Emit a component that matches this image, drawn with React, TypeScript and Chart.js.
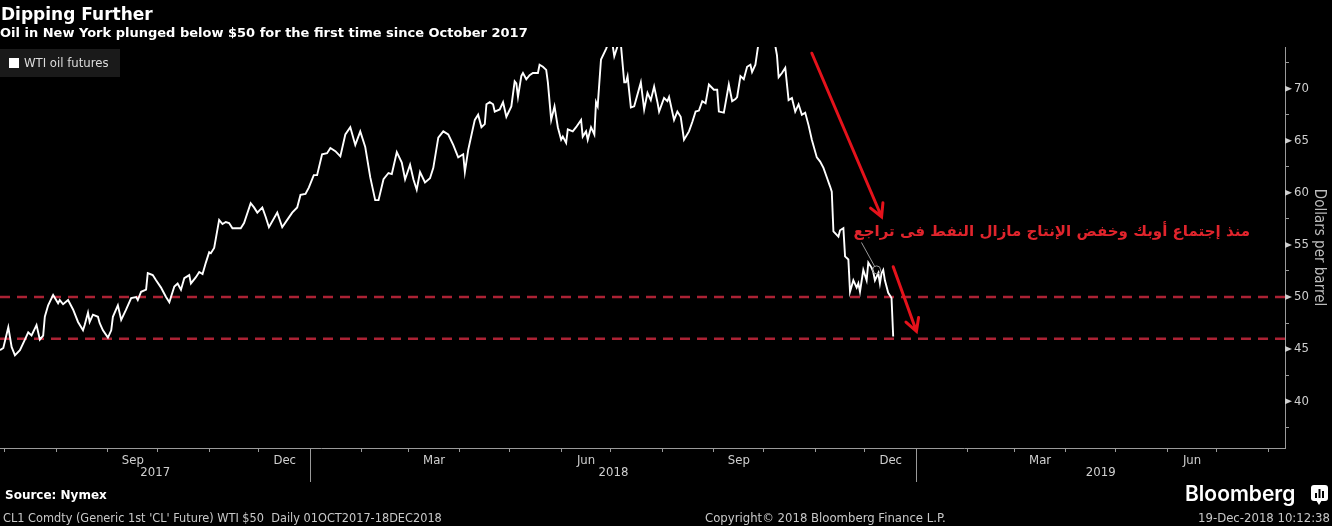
import React, { useEffect, useRef } from "react";
import { Chart, registerables } from "chart.js";

Chart.register(...registerables);

// ---------- data ----------
const dates: string[] = [
  "2017-06-28","2017-06-30","2017-07-03","2017-07-05","2017-07-07","2017-07-10","2017-07-13","2017-07-15","2017-07-17","2017-07-20",
  "2017-07-22","2017-07-24","2017-07-25","2017-07-27","2017-07-30","2017-08-02","2017-08-03","2017-08-05","2017-08-08","2017-08-11",
  "2017-08-14","2017-08-17","2017-08-18","2017-08-20","2017-08-21","2017-08-23","2017-08-26","2017-08-27","2017-08-29","2017-09-01",
  "2017-09-03","2017-09-04","2017-09-07","2017-09-09","2017-09-12","2017-09-15","2017-09-18","2017-09-19","2017-09-21","2017-09-24",
  "2017-09-25","2017-09-28","2017-09-30","2017-10-03","2017-10-04","2017-10-06","2017-10-08","2017-10-09","2017-10-11","2017-10-13",
  "2017-10-15","2017-10-17","2017-10-20","2017-10-21","2017-10-24","2017-10-26","2017-10-28","2017-10-30","2017-11-01","2017-11-02",
  "2017-11-04","2017-11-07","2017-11-09","2017-11-11","2017-11-13","2017-11-15","2017-11-20","2017-11-22","2017-11-26","2017-11-28",
  "2017-11-30","2017-12-03","2017-12-05","2017-12-07","2017-12-12","2017-12-15","2017-12-18","2017-12-21","2017-12-24","2017-12-26",
  "2017-12-29","2017-12-31","2018-01-03","2018-01-05","2018-01-08","2018-01-11","2018-01-13","2018-01-16","2018-01-19","2018-01-22",
  "2018-01-25","2018-01-28","2018-01-31","2018-02-03","2018-02-06","2018-02-09","2018-02-11","2018-02-14","2018-02-17","2018-02-19",
  "2018-02-22","2018-02-25","2018-02-27","2018-03-02","2018-03-04","2018-03-06","2018-03-08","2018-03-11","2018-03-14","2018-03-16",
  "2018-03-19","2018-03-22","2018-03-25","2018-03-28","2018-03-31","2018-04-03","2018-04-04","2018-04-06","2018-04-09","2018-04-10",
  "2018-04-12","2018-04-14","2018-04-16","2018-04-17","2018-04-19","2018-04-21","2018-04-22","2018-04-25","2018-04-27","2018-04-29",
  "2018-05-02","2018-05-04","2018-05-05","2018-05-06","2018-05-08","2018-05-09","2018-05-11","2018-05-13","2018-05-15","2018-05-18",
  "2018-05-19","2018-05-21","2018-05-23","2018-05-24","2018-05-26","2018-05-28","2018-05-30","2018-06-01","2018-06-02","2018-06-04",
  "2018-06-05","2018-06-08","2018-06-10","2018-06-13","2018-06-14","2018-06-16","2018-06-17","2018-06-19","2018-06-21","2018-06-22",
  "2018-06-23","2018-06-25","2018-06-28","2018-06-29","2018-07-02","2018-07-03","2018-07-05","2018-07-07","2018-07-09","2018-07-10",
  "2018-07-11","2018-07-13","2018-07-15","2018-07-19","2018-07-21","2018-07-23","2018-07-25","2018-07-27","2018-07-29","2018-07-30",
  "2018-08-02","2018-08-04","2018-08-05","2018-08-08","2018-08-10","2018-08-12","2018-08-14","2018-08-17","2018-08-19","2018-08-21",
  "2018-08-23","2018-08-25","2018-08-27","2018-08-29","2018-09-01","2018-09-03","2018-09-04","2018-09-07","2018-09-10","2018-09-12",
  "2018-09-14","2018-09-15","2018-09-17","2018-09-19","2018-09-21","2018-09-23","2018-09-24","2018-09-26","2018-09-28","2018-09-30",
  "2018-10-02","2018-10-04","2018-10-06","2018-10-07","2018-10-09","2018-10-10","2018-10-12","2018-10-14","2018-10-16","2018-10-18",
  "2018-10-20","2018-10-22","2018-10-24","2018-10-26","2018-10-28","2018-10-30","2018-11-02","2018-11-04","2018-11-06","2018-11-08",
  "2018-11-10","2018-11-11","2018-11-12","2018-11-15","2018-11-16","2018-11-18","2018-11-19","2018-11-21","2018-11-22","2018-11-24",
  "2018-11-26","2018-11-27","2018-11-28","2018-11-30","2018-12-02","2018-12-03","2018-12-05","2018-12-06","2018-12-07","2018-12-09",
  "2018-12-10","2018-12-11","2018-12-12","2018-12-13","2018-12-15","2018-12-17","2018-12-18",
];

const wti: number[] = [
  44.9,45.1,47.1,45.2,44.4,44.9,45.9,46.6,46.3,47.3,
  45.9,46.3,48.1,49.2,50.2,49.4,49.7,49.3,49.7,48.8,
  47.6,46.8,47.3,48.5,47.6,48.3,48.1,47.5,46.8,46.1,
  46.8,48.1,49.2,47.8,48.8,49.9,50.0,49.7,50.5,50.7,
  52.3,52.1,51.6,50.9,50.6,50.0,49.5,50.0,51.0,51.3,
  50.7,51.8,52.1,51.3,51.9,52.4,52.2,53.3,54.3,54.2,
  54.7,57.4,57.0,57.2,57.1,56.6,56.6,57.1,59.0,58.6,
  58.1,58.6,57.7,56.7,58.1,56.7,57.4,58.1,58.6,59.8,
  59.9,60.5,61.7,61.7,63.7,63.8,64.3,64.0,63.5,65.6,
  66.3,64.6,65.9,64.4,61.5,59.3,59.3,61.3,61.9,61.8,
  63.9,62.9,61.3,62.7,61.3,60.3,62.0,61.0,61.4,62.4,
  65.3,65.9,65.6,64.6,63.4,63.7,62.0,64.1,66.3,67.0,
  67.5,66.3,66.6,68.5,68.7,68.5,67.8,68.0,68.7,67.3,
  68.3,70.7,70.5,69.2,71.2,71.5,70.9,71.3,71.5,71.5,
  72.3,72.1,71.8,70.6,67.0,68.3,66.3,65.1,65.4,64.8,
  66.1,65.9,66.3,67.0,65.4,65.9,65.1,66.3,65.6,68.7,
  68.3,72.8,73.8,74.2,74.2,73.1,74.1,74.2,70.6,70.6,
  71.2,68.2,68.3,70.6,68.0,69.6,68.9,70.2,68.7,67.8,
  69.1,68.8,69.2,67.0,67.8,67.3,65.1,65.9,66.8,67.8,
  67.9,68.8,68.6,70.4,69.9,69.9,67.8,67.7,70.4,68.8,
  69.0,69.2,71.2,70.9,72.1,72.3,71.6,72.3,74.5,75.5,
  76.4,74.3,74.5,75.0,73.2,71.1,71.5,72.0,68.9,69.1,
  67.8,68.5,67.5,67.7,66.5,65.1,63.4,63.0,62.4,61.5,
  60.6,60.1,56.3,55.8,56.4,56.6,53.9,53.6,50.5,51.6,
  50.9,51.3,50.5,52.6,51.6,53.3,52.8,52.4,51.6,52.3,
  51.3,52.3,52.6,51.6,50.4,49.9,46.2,
];

const referenceLevels: number[] = [50, 46];
const axisRange: string[] = ["2017-06-28", "2019-08-11"];
const yRange: number[] = [35.5, 74];
const yTickValues: number[] = [37.5, 40, 42.5, 45, 47.5, 50, 52.5, 55, 57.5, 60, 62.5, 65, 67.5, 70, 72.5];
const monthNames: string[] = ["Jan","Feb","Mar","Apr","May","Jun","Jul","Aug","Sep","Oct","Nov","Dec"];
const labelledMonths: number[] = [2, 5, 8, 11]; // Mar, Jun, Sep, Dec
const years: number[] = [2017, 2018, 2019];

const titleText = "Dipping Further";
const subtitleText = "Oil in New York plunged below $50 for the first time since October 2017";
const legendText = "WTI oil futures";
const yTitle = "Dollars per barrel";
const sourceText = "Source: Nymex";
const tickerText = "CL1 Comdty (Generic 1st 'CL' Future) WTI $50  Daily 01OCT2017-18DEC2018";
const copyrightText = "Copyright\u00A9 2018 Bloomberg Finance L.P.";
const stampText = "19-Dec-2018 10:12:38";

const noteText = "منذ إجتماع أوبك وخفض الإنتاج مازال النفط فى تراجع";
const noteAnchor: [string, number] = ["2019-07-21", 56.25];
const calloutFrom: [string, number] = ["2018-11-29", 55.2];
const calloutPoint: [string, number] = ["2018-12-08", 52.6];
const arrowStarts: [string, number][] = [["2018-10-30", 73.4], ["2018-12-18", 52.9]];
const arrowEnds: [string, number][] = [["2018-12-11", 57.7], ["2019-01-01", 46.7]];

// ---------- helpers ----------
const dayNum = (s: string) => {
  const [y, m, d] = s.split("-").map(Number);
  return Date.UTC(y, m - 1, d) / 86400000;
};
const dayOf = (y: number, m: number, d: number) => Date.UTC(y, m, d) / 86400000;

const COND = '"Liberation Sans Narrow", "DejaVu Sans Condensed", sans-serif';
const AXIS_COLOR = "#9a9a9a";
const LABEL_COLOR = "#cfcfcf";

export default function App() {
  const ref = useRef<HTMLCanvasElement | null>(null);

  useEffect(() => {
    if (!ref.current) return;
    const xMin = dayNum(axisRange[0]);
    const xMax = dayNum(axisRange[1]);

    // month boundary ticks and mid-month label ticks
    const monthStarts: number[] = [];
    const midTicks: { v: number; label: string }[] = [];
    for (let y = 2017; y <= 2019; y++) {
      for (let m = 0; m < 12; m++) {
        const s = dayOf(y, m, 1);
        const e = dayOf(y, m + 1, 1);
        if (s >= xMin && s <= xMax) monthStarts.push(s);
        const mid = (s + e) / 2;
        if (labelledMonths.includes(m) && mid > xMin && mid < xMax) midTicks.push({ v: mid, label: monthNames[m] });
      }
    }
    const midMap = new Map(midTicks.map((t) => [t.v, t.label]));

    const series = dates.map((d, i) => ({ x: dayNum(d), y: wti[i] }));

    const overlay = {
      id: "overlay",
      beforeDraw(chart: any) {
        const { ctx, width, height } = chart;
        ctx.save();
        ctx.fillStyle = "#000";
        ctx.fillRect(0, 0, width, height);
        ctx.restore();
      },
      afterDraw(chart: any) {
        const { ctx, chartArea } = chart;
        const xs = chart.scales.x;
        const ys = chart.scales.y;
        const px = (d: string) => xs.getPixelForValue(dayNum(d));
        const py = (v: number) => ys.getPixelForValue(v);
        ctx.save();

        // title + subtitle
        ctx.fillStyle = "#ffffff";
        ctx.textAlign = "left";
        ctx.textBaseline = "alphabetic";
        ctx.font = 'bold 17px "DejaVu Sans"';
        ctx.fillText(titleText, 1, 20);
        ctx.font = 'bold 13px "DejaVu Sans"';
        ctx.fillText(subtitleText, 0, 37);

        // legend
        ctx.fillStyle = "#1a1a1a";
        ctx.fillRect(0, 49, 120, 28);
        ctx.fillStyle = "#ffffff";
        ctx.fillRect(9, 58, 10, 10);
        ctx.fillStyle = "#dddddd";
        ctx.font = `13px ${COND}`;
        ctx.textBaseline = "middle";
        ctx.fillText(legendText, 24, 63.5);

        // y major tick triangles
        ctx.fillStyle = LABEL_COLOR;
        yTickValues.forEach((v) => {
          if (v % 5 !== 0) return;
          const y = py(v);
          ctx.beginPath();
          ctx.moveTo(chartArea.right, y - 3);
          ctx.lineTo(chartArea.right + 7, y);
          ctx.lineTo(chartArea.right, y + 3);
          ctx.closePath();
          ctx.fill();
        });

        // years: separators and labels
        ctx.strokeStyle = AXIS_COLOR;
        ctx.lineWidth = 1;
        ctx.fillStyle = LABEL_COLOR;
        ctx.font = `13px ${COND}`;
        ctx.textAlign = "center";
        ctx.textBaseline = "middle";
        years.forEach((yr) => {
          const s = Math.max(dayOf(yr, 0, 1), xMin);
          const e = Math.min(dayOf(yr + 1, 0, 1), xMax);
          if (dayOf(yr, 0, 1) > xMin) {
            const x = Math.round(xs.getPixelForValue(dayOf(yr, 0, 1))) + 0.5;
            ctx.beginPath();
            ctx.moveTo(x, chartArea.bottom + 4);
            ctx.lineTo(x, chartArea.bottom + 34);
            ctx.stroke();
          }
          const cx = (xs.getPixelForValue(s) + xs.getPixelForValue(e)) / 2;
          ctx.fillText(String(yr), cx, chartArea.bottom + 25);
        });

        // footer
        ctx.textAlign = "left";
        ctx.textBaseline = "alphabetic";
        ctx.fillStyle = "#ffffff";
        ctx.font = 'bold 12px "DejaVu Sans"';
        ctx.fillText(sourceText, 5, 499);
        ctx.fillStyle = "#c8c8c8";
        ctx.font = `13px ${COND}`;
        ctx.save();
        ctx.translate(3, 522);
        ctx.scale(0.97, 1);
        ctx.fillText(tickerText, 0, 0);
        ctx.restore();
        ctx.fillText(copyrightText, 705, 522);
        ctx.textAlign = "right";
        ctx.fillText(stampText, 1330, 522);

        // Bloomberg logo
        ctx.fillStyle = "#ffffff";
        ctx.textAlign = "left";
        ctx.font = '600 21px "Inter"';
        ctx.fillText("Bloomberg", 1185, 501);
        ctx.beginPath();
        ctx.roundRect(1311, 485, 17, 16, 3);
        ctx.fill();
        ctx.beginPath();
        ctx.moveTo(1316, 500);
        ctx.lineTo(1319, 505);
        ctx.lineTo(1322, 500);
        ctx.fill();
        ctx.fillStyle = "#000";
        ctx.fillRect(1315, 493, 2, 5);
        ctx.fillRect(1318.5, 489, 2, 9);
        ctx.fillRect(1322, 491, 2, 7);

        // arrows
        ctx.strokeStyle = "#e5121b";
        ctx.lineWidth = 3;
        ctx.lineCap = "round";
        arrowStarts.forEach((a, i) => {
          const x1 = px(a[0]), y1 = py(a[1]);
          const x2 = px(arrowEnds[i][0]), y2 = py(arrowEnds[i][1]);
          const ang = Math.atan2(y2 - y1, x2 - x1);
          ctx.beginPath();
          ctx.moveTo(x1, y1);
          ctx.lineTo(x2, y2);
          const L = 14, w = 0.5;
          ctx.moveTo(x2 - L * Math.cos(ang - w), y2 - L * Math.sin(ang - w));
          ctx.lineTo(x2, y2);
          ctx.lineTo(x2 - L * Math.cos(ang + w), y2 - L * Math.sin(ang + w));
          ctx.stroke();
        });

        // callout
        const cx = px(calloutPoint[0]), cy = py(calloutPoint[1]);
        const fx = px(calloutFrom[0]), fy = py(calloutFrom[1]);
        ctx.strokeStyle = "#9a9a9a";
        ctx.lineWidth = 1;
        const ang = Math.atan2(cy - fy, cx - fx);
        ctx.beginPath();
        ctx.moveTo(fx, fy);
        ctx.lineTo(cx - 4 * Math.cos(ang), cy - 4 * Math.sin(ang));
        ctx.stroke();
        ctx.beginPath();
        ctx.arc(cx, cy, 4, 0, Math.PI * 2);
        ctx.stroke();

        // Arabic note
        ctx.fillStyle = "#e0242c";
        ctx.textAlign = "right";
        ctx.textBaseline = "middle";
        ctx.direction = "rtl";
        let size = 16;
        ctx.font = `bold ${size}px "DejaVu Sans"`;
        const w0 = ctx.measureText(noteText).width;
        size = Math.max(10, Math.min(22, (size * 397) / w0));
        ctx.font = `bold ${size}px "DejaVu Sans"`;
        ctx.fillText(noteText, px(noteAnchor[0]), py(noteAnchor[1]));

        ctx.restore();
      },
    };

    const chart = new Chart(ref.current, {
      type: "line",
      data: {
        datasets: [
          {
            label: legendText,
            data: series,
            borderColor: "#ffffff",
            borderWidth: 1.9,
            pointRadius: 0,
            tension: 0,
            order: 0,
          } as any,
          ...referenceLevels.map((lvl) => ({
            label: `level ${lvl}`,
            data: [
              { x: xMin, y: lvl },
              { x: xMax, y: lvl },
            ],
            borderColor: "rgba(190,38,58,0.9)",
            borderWidth: 2.5,
            borderDash: [10, 7],
            pointRadius: 0,
            order: 1,
          })),
        ],
      },
      options: {
        animation: false,
        responsive: false,
        maintainAspectRatio: false,
        layout: { padding: { top: 47, bottom: 48, left: 0, right: 0 } },
        plugins: {
          legend: { display: false },
          tooltip: { enabled: false },
          title: { display: false },
        },
        scales: {
          x: {
            type: "linear",
            min: xMin,
            max: xMax,
            afterFit: (s: any) => {
              s.height = 30;
            },
            afterBuildTicks: (s: any) => {
              const all = [...monthStarts, ...midTicks.map((t) => t.v)].sort((a, b) => a - b);
              s.ticks = all.map((v) => ({ value: v }));
            },
            border: { display: true, color: AXIS_COLOR, width: 1 },
            grid: {
              display: true,
              drawOnChartArea: false,
              drawTicks: true,
              tickLength: 4,
              tickColor: (c: any) => (c.tick && midMap.has(c.tick.value) ? "rgba(0,0,0,0)" : AXIS_COLOR),
            },
            ticks: {
              autoSkip: false,
              maxRotation: 0,
              minRotation: 0,
              padding: 1,
              color: LABEL_COLOR,
              font: { family: COND, size: 13 },
              callback: (v: any) => midMap.get(v) || "",
            },
          },
          y: {
            type: "linear",
            position: "right",
            min: yRange[0],
            max: yRange[1],
            afterFit: (s: any) => {
              s.width = 47;
            },
            afterBuildTicks: (s: any) => {
              s.ticks = yTickValues.map((v) => ({ value: v }));
            },
            border: { display: true, color: AXIS_COLOR, width: 1 },
            grid: {
              display: true,
              drawOnChartArea: false,
              drawTicks: true,
              tickLength: 4,
              tickColor: (c: any) => (c.tick && c.tick.value % 5 === 0 ? "rgba(0,0,0,0)" : AXIS_COLOR),
            },
            ticks: {
              padding: 5,
              color: LABEL_COLOR,
              font: { family: COND, size: 13 },
              callback: (v: any) => (v % 5 === 0 ? String(v) : ""),
            },
            title: {
              display: true,
              text: yTitle,
              color: "#bdbdbd",
              font: { family: COND, size: 15 },
              padding: { top: 4, bottom: 4 },
            },
          },
        },
      },
      plugins: [overlay],
    } as any);

    return () => chart.destroy();
  }, []);

  return (
    <div style={{ position: "absolute", left: 0, top: 0, width: 1332, height: 526, background: "#000" }}>
      <canvas ref={ref} width={1332} height={526} style={{ display: "block", width: 1332, height: 526 }} />
    </div>
  );
}
